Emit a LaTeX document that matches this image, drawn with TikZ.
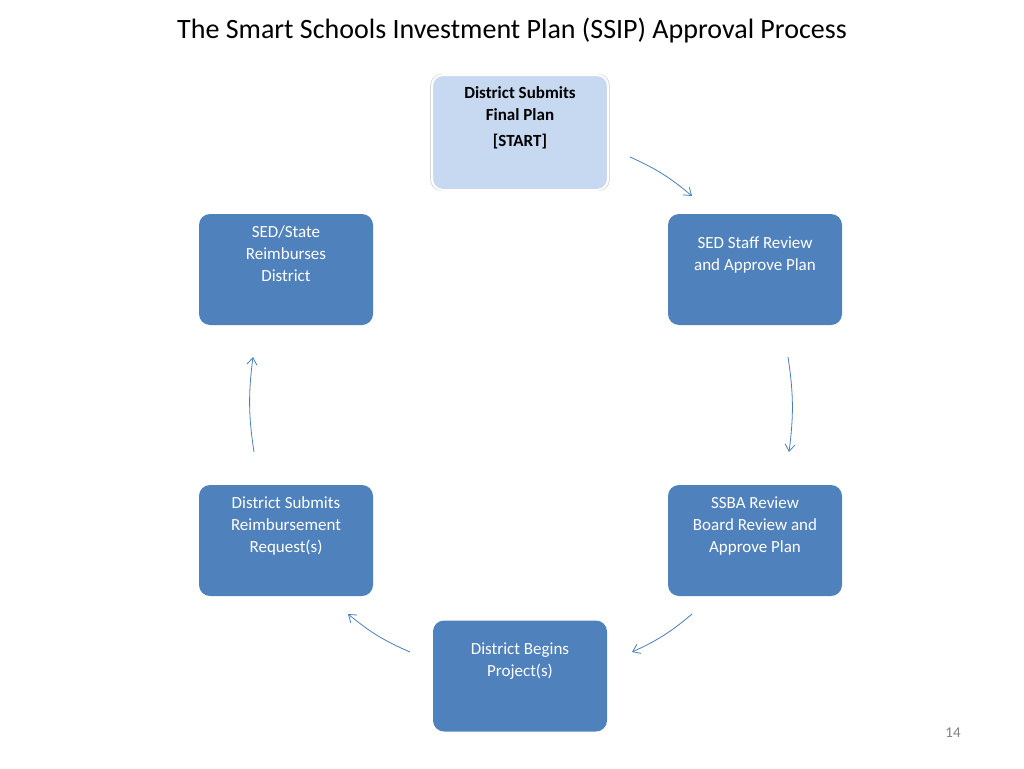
\documentclass[tikz,border=0pt]{standalone}
\usepackage{fontspec}
\setmainfont{Carlito}
\usetikzlibrary{shadows,arrows.meta}
\begin{document}
\begin{tikzpicture}[x=1pt,y=-1pt,
  box/.style={draw=none,fill=boxblue,rounded corners=11pt,minimum width=174pt,minimum height=111pt,text=white,align=center,font=\fontsize{17}{22}\selectfont},
  arr/.style={draw=linkblue,line width=0.8pt,-{Straight Barb[length=7pt,width=10pt]}}]
\definecolor{boxblue}{HTML}{4F81BD}
\definecolor{linkblue}{HTML}{4A7EBB}
\definecolor{startblue}{HTML}{C6D9F1}
\useasboundingbox (0,0) rectangle (1024,768);
\node[font=\fontsize{28}{32}\selectfont] (title) at (512,31) {The Smart Schools Investment Plan (SSIP) Approval Process};
\node[box,fill=startblue,text=black,draw=white,line width=2pt,drop shadow={fill=gray!60,shadow xshift=0pt,shadow yshift=0pt,shadow scale=1.02},font=\bfseries\fontsize{17}{22}\selectfont,minimum height=115pt,minimum width=176pt] (s) at (520,132.5) {District Submits\\Final Plan\\[4pt][START]\\[10pt]};
\node[box] (a) at (755,269.5) {SED Staff Review\\and Approve Plan\\[10pt]};
\node[box] (b) at (755,540.5) {SSBA Review\\Board Review and\\Approve Plan\\[10pt]};
\node[box] (c) at (520,676) {District Begins\\Project(s)\\[10pt]};
\node[box] (d) at (286,540.5) {District Submits\\Reimbursement\\Request(s)\\[10pt]};
\node[box] (e) at (286,269.5) {SED/State\\Reimburses\\District\\[10pt]};
\node[font=\fontsize{15}{18}\selectfont,text=gray] (pg) at (953,733) {14};
\coordinate (s1) at (630,157); \coordinate (s2) at (692,196);
\coordinate (a1) at (788,357); \coordinate (a2) at (789,452);
\coordinate (b1) at (692,614); \coordinate (b2) at (632,652);
\coordinate (c1) at (410,652); \coordinate (c2) at (348,614);
\coordinate (d1) at (254,452); \coordinate (d2) at (253,357);
\draw[arr] (s1) to[bend left=8] (s2);
\draw[arr] (a1) to[bend left=8] (a2);
\draw[arr] (b1) to[bend left=8] (b2);
\draw[arr] (c1) to[bend left=8] (c2);
\draw[arr] (d1) to[bend left=8] (d2);
\end{tikzpicture}
\end{document}
